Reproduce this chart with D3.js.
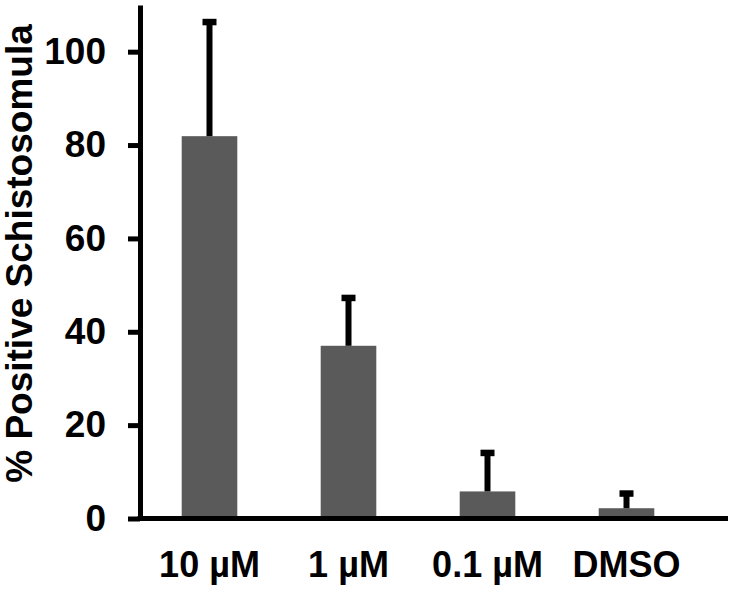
<!DOCTYPE html>
<html>
<head>
<meta charset="utf-8">
<script src="https://cdn.jsdelivr.net/npm/d3@7"></script>
<style>
  body { margin: 0; background: #fff; }
  text { font-family: "Liberation Sans", Arial, sans-serif; font-weight: bold; fill: #000; }
</style>
</head>
<body>
<div class="chart"></div>
<script>
// values
const groups = ["10 µM", "1 µM", "0.1 µM", "DMSO"];
const means = [81.9, 37.0, 5.8, 2.2];
const upper = [106.4, 47.3, 14.1, 5.4];
const yTicks = [0, 20, 40, 60, 80, 100];

const width = 733, height = 590;
const axisX = 140, baseY = 518.5, topY = 5, rightX = 728;

let svg = d3.select(".chart").append("svg")
  .attr("width", width)
  .attr("height", height);

let x = d3.scaleBand()
  .domain(groups)
  .range([axisX, 696])
  .paddingInner(0.6)
  .paddingOuter(0.3);

let y = d3.scaleLinear()
  .domain([0, 110])
  .range([baseY, topY]);

// bars
svg.selectAll(".bar")
  .data(groups)
  .join("rect")
  .attr("class", "bar")
  .attr("x", d => x(d))
  .attr("width", x.bandwidth())
  .attr("y", (d, i) => y(means[i]))
  .attr("height", (d, i) => baseY - y(means[i]))
  .attr("fill", "#5a5a5a");

// error bars (upper only)
svg.selectAll(".err")
  .data(groups)
  .join("line")
  .attr("class", "err")
  .attr("x1", d => x(d) + x.bandwidth() / 2)
  .attr("x2", d => x(d) + x.bandwidth() / 2)
  .attr("y1", (d, i) => y(means[i]))
  .attr("y2", (d, i) => y(upper[i]))
  .attr("stroke", "#000")
  .attr("stroke-width", 6);

svg.selectAll(".cap")
  .data(groups)
  .join("rect")
  .attr("class", "cap")
  .attr("x", d => x(d) + x.bandwidth() / 2 - 7)
  .attr("width", 14)
  .attr("y", (d, i) => y(upper[i]) - 3)
  .attr("height", 6.5)
  .attr("fill", "#000");

// y axis
let yAxis = svg.append("g")
  .attr("transform", "translate(" + axisX + ",0)")
  .call(d3.axisLeft(y).tickValues(yTicks).tickSize(12).tickPadding(22).tickSizeOuter(0));

yAxis.select(".domain").attr("stroke-width", 5);
yAxis.selectAll(".tick line").attr("stroke-width", 5);
yAxis.selectAll(".tick text")
  .style("font-size", "37px")
  .attr("fill", "#000");

// x baseline
svg.append("line")
  .attr("x1", axisX - 2.5)
  .attr("x2", rightX)
  .attr("y1", baseY)
  .attr("y2", baseY)
  .attr("stroke", "#000")
  .attr("stroke-width", 5);

// x labels
svg.selectAll(".xlab")
  .data(groups)
  .join("text")
  .attr("class", "xlab")
  .attr("x", d => x(d) + x.bandwidth() / 2)
  .attr("y", 577)
  .attr("text-anchor", "middle")
  .style("font-size", "36px")
  .text(d => d);

// y title
svg.append("text")
  .attr("transform", "translate(32,253.5) rotate(-90)")
  .attr("text-anchor", "middle")
  .style("font-size", "37px")
  .text("% Positive Schistosomula");
</script>
</body>
</html>
